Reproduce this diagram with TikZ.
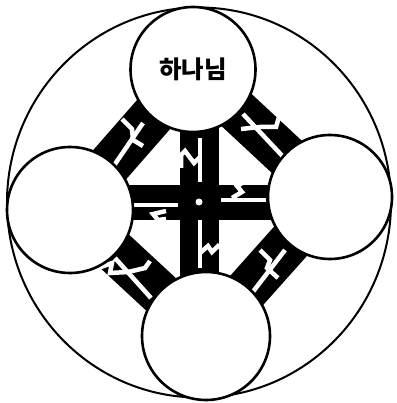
\documentclass[tikz,border=0pt]{standalone}
\usepackage{fontspec}
\newfontfamily\kr{Noto Sans CJK KR}
\usetikzlibrary{backgrounds}
\begin{document}
\begin{tikzpicture}[x=1pt,y=-1pt,
  ball/.style={circle,draw=black,fill=white,line width=2.6pt,inner sep=0pt},
  band/.style={line width=44pt,black},
  crack/.style={white,line width=4.5pt,line join=miter,line cap=butt}]
\useasboundingbox (0,0) rectangle (396,403);
\node[ball,minimum size=125pt] (top) at (193,69.5) {\kr\bfseries\fontsize{24.5}{28}\selectfont 하나님};
\node[ball,minimum size=126pt] (left) at (70,210) {};
\node[ball,minimum size=124pt] (right) at (330,197) {};
\node[ball,minimum size=128pt] (bottom) at (206,336) {};
\coordinate (cx) at (199,202);
\begin{scope}[on background layer]
\fill[white] (0,0) rectangle (396,403);
\draw[line width=2pt] (199,202.5) ellipse [x radius=192, y radius=195];
\draw[band] (top.center) -- (left.center);
\draw[band] (top.center) -- (right.center);
\draw[band] (bottom.center) -- (left.center);
\draw[band] (bottom.center) -- (right.center);
\draw[black,line width=39pt] (cx |- top.center) -- (cx |- bottom.center);
\draw[black,line width=35pt] (cx -| left.center) -- (cx -| right.center);
% cross white lines
\draw[crack] (200,138) -- (200,182);
\draw[crack] (200,220) -- (200,268);
\draw[crack] (133,205) -- (178,205);
\draw[crack] (221,200) -- (266,200);
\fill[white] (cx) circle (3.5);
% cross cracks
\draw[crack] (181,168) -- (181,155) -- (185,151) -- (194,163) -- (200,157);
\draw[crack] (200,253) -- (208,246) -- (212,252) -- (218,246) -- (224,250);
\draw[crack] (166,211) -- (153,214) -- (158,220) -- (166,219);
\draw[crack] (232,198) -- (242,192) -- (237,186) -- (244,182);
% diagonal white lines
\draw[crack] (113,167) -- (143,123);
\draw[crack] (122,119) -- (132,129) -- (133,140) -- (143,146);
\draw[crack] (243,114) -- (288,162);
\draw[crack] (241,129) -- (260,127) -- (276,127) -- (279,117);
\draw[crack] (115,258) -- (151,298);
\draw[crack] (98,268) -- (112,263) -- (110,273) -- (128,272) -- (145,268) -- (150,261);
\draw[crack] (252,293) -- (285,250);
\draw[crack] (260,250) -- (270,260) -- (267,268) -- (278,278);
\end{scope}
\end{tikzpicture}
\end{document}
